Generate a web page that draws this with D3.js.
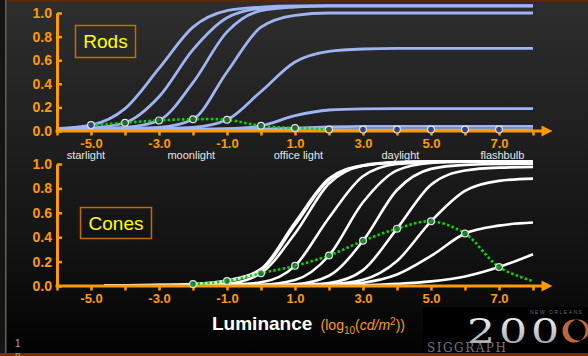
<!DOCTYPE html>
<html><head><meta charset="utf-8">
<script src="https://cdn.jsdelivr.net/npm/d3@7"></script>
<style>html,body{margin:0;padding:0;background:#000;overflow:hidden}</style>
</head><body>
<svg id="c" width="588" height="356"></svg>
<script>
// ---------- DATA ----------
const xTicks = [-6,-5,-4,-3,-2,-1,0,1,2,3,4,5,6,7,8];
const xTickLabels = {"-5":"-5.0","-3":"-3.0","-1":"-1.0","1":"1.0","3":"3.0","5":"5.0","7":"7.0"};
const yTicks = [0,0.2,0.4,0.6,0.8,1.0];
const sceneNames = ["starlight","moonlight","office light","daylight","flashbulb"];
const sceneAt = [-5.15,-2.05,1.1,4.1,7.1];

// Rods: response curves sampled at log luminance rodX
const rodX = [-6,-5,-4,-3,-2,-1,0,1,2,3,4,5,6,7,8];
const rods = [
  [0.02,0.05,0.19,0.53,0.88,1.02,1.05,1.06,1.06,1.06,1.06,1.06,1.06,1.06,1.06],
  [0.015,0.025,0.07,0.29,0.69,0.96,1.04,1.055,1.06,1.06,1.06,1.06,1.06,1.06,1.06],
  [0.015,0.02,0.03,0.09,0.41,0.84,1.02,1.05,1.06,1.06,1.06,1.06,1.06,1.06,1.06],
  [0.015,0.015,0.02,0.03,0.10,0.50,0.88,0.98,1.0,1.0,1.0,1.0,1.0,1.0,1.0],
  [0.015,0.015,0.015,0.02,0.03,0.095,0.335,0.585,0.675,0.695,0.70,0.70,0.70,0.70,0.70],
  [0.015,0.015,0.015,0.015,0.015,0.02,0.044,0.13,0.178,0.188,0.19,0.19,0.19,0.19,0.19],
  [0.015,0.015,0.015,0.015,0.015,0.015,0.017,0.025,0.034,0.039,0.04,0.04,0.04,0.04,0.04],
  [0.012,0.012,0.012,0.012,0.012,0.012,0.012,0.012,0.012,0.012,0.012,0.012,0.012,0.012,0.012]
];
const rodPtX = [-5,-4,-3,-2,-1,0,1,2,3,4,5,6,7];
const rodPtY = [0.05,0.07,0.09,0.10,0.095,0.044,0.025,0.012,0.012,0.012,0.012,0.012,0.012];
const rodGreenX = [-5,-4,-3,-2,-1,0,1,2];
const rodGreenY = [0.05,0.07,0.09,0.10,0.095,0.044,0.025,0.012];

// Cones
const coneX = [-4.6,-4,-3,-2,-1,0,1,2,3,4,5,6,7,8];
const cones = [
  [0.005,0.006,0.009,0.016,0.045,0.14,0.52,0.88,0.99,1.015,1.02,1.02,1.02,1.02],
  [0.005,0.005,0.007,0.012,0.04,0.13,0.50,0.87,0.985,1.012,1.02,1.02,1.02,1.02],
  [0.005,0.005,0.005,0.008,0.018,0.105,0.43,0.84,0.986,1.013,1.02,1.02,1.02,1.02],
  [0.005,0.005,0.005,0.005,0.01,0.03,0.165,0.56,0.90,1.0,1.015,1.02,1.02,1.02],
  [0.005,0.005,0.005,0.005,0.005,0.01,0.049,0.25,0.686,0.948,1.008,1.018,1.02,1.02],
  [0.005,0.005,0.005,0.005,0.005,0.006,0.014,0.084,0.37,0.787,0.96,0.993,1.0,1.0],
  [0.005,0.005,0.005,0.005,0.005,0.005,0.008,0.025,0.13,0.47,0.83,0.946,0.97,0.975],
  [0.005,0.005,0.005,0.005,0.005,0.005,0.005,0.014,0.051,0.205,0.53,0.78,0.862,0.88],
  [0.005,0.005,0.005,0.005,0.005,0.005,0.005,0.008,0.027,0.094,0.246,0.43,0.495,0.52],
  [0.005,0.005,0.005,0.005,0.005,0.005,0.005,0.005,0.007,0.018,0.038,0.078,0.155,0.26]
];
const conePtX = [-2,-1,0,1,2,3,4,5,6,7];
const conePtY = [0.016,0.04,0.105,0.165,0.25,0.37,0.47,0.53,0.43,0.155];
const coneGreenX = [-2,-1,0,1,2,3,4,5,6,7,8];
const coneGreenY = [0.016,0.04,0.105,0.165,0.25,0.37,0.47,0.53,0.43,0.155,0.04];

// ---------- DRAW ----------
const W = 588, H = 356;
const ORANGE = "#ff9a00";
const FONT = "'Liberation Sans', Arial, sans-serif";
const svg = d3.select("#c");
const defs = svg.append("defs");
const bg = defs.append("linearGradient").attr("id","bg").attr("x1",0).attr("y1",0).attr("x2",0).attr("y2",1);
bg.append("stop").attr("offset","0%").attr("stop-color","#2e2e2e");
bg.append("stop").attr("offset","40%").attr("stop-color","#1e1e1e");
bg.append("stop").attr("offset","70%").attr("stop-color","#121212");
bg.append("stop").attr("offset","100%").attr("stop-color","#020202");
svg.append("rect").attr("width",W).attr("height",H).attr("fill","url(#bg)");

// frame
svg.append("rect").attr("x",0).attr("y",0).attr("width",W).attr("height",2).attr("fill","#5a2800");
svg.append("rect").attr("x",0).attr("y",0).attr("width",5).attr("height",H).attr("fill","#141414");
svg.append("rect").attr("x",5).attr("y",0).attr("width",1.5).attr("height",H).attr("fill","#6d5d50");
svg.append("rect").attr("x",0).attr("y",353).attr("width",W).attr("height",3).attr("fill","#6a3300");

const x = d3.scaleLinear().domain([-6,8]).range([57,533]);
const yR = d3.scaleLinear().domain([0,1]).range([131,13]);
const yC = d3.scaleLinear().domain([0,1]).range([286,164]);

function curveLine(xs, y, curve){
  return d3.line().x((d,i)=>x(xs[i])).y(d=>y(d)).curve(curve);
}

function drawAxes(y, y0){
  const ya = svg.append("g").attr("transform",`translate(${x(-6)},0)`)
    .call(d3.axisLeft(y).tickValues(yTicks).tickSize(-5).tickSizeOuter(0).tickPadding(5).tickFormat(d3.format(".1f")));
  ya.select(".domain").attr("stroke",ORANGE).attr("stroke-width",3);
  ya.selectAll(".tick line").attr("stroke",ORANGE).attr("stroke-width",2.5);
  ya.selectAll(".tick text").attr("fill",ORANGE).style("font",`bold 14px ${FONT}`);
  svg.append("line").attr("x1",x(-6)-1.5).attr("x2",x(8.28)).attr("y1",y0).attr("y2",y0)
    .attr("stroke",ORANGE).attr("stroke-width",3);
  svg.append("path").attr("d",`M${x(8.25)},${y0-5.5}L${x(8.57)},${y0}L${x(8.25)},${y0+5.5}Z`).attr("fill",ORANGE);
  const xa = svg.append("g").attr("transform",`translate(0,${y0})`)
    .call(d3.axisBottom(x).tickValues(xTicks).tickSize(4.5).tickPadding(3).tickFormat(d=>xTickLabels[d]||""));
  xa.select(".domain").remove();
  xa.selectAll(".tick line").attr("stroke",ORANGE).attr("stroke-width",2.5);
  xa.selectAll(".tick text").attr("fill",ORANGE).style("font",`bold 13px ${FONT}`);
}

function drawGreen(xs, ys, y){
  svg.append("path").attr("d", curveLine(xs, y, d3.curveCatmullRom)(ys))
    .attr("fill","none").attr("stroke","#00dd00").attr("stroke-width",2.6).attr("stroke-dasharray","2.4,2.4");
}
function drawPts(xs, ys, y, fills){
  svg.append("g").selectAll("circle").data(ys).join("circle")
    .attr("cx",(d,i)=>x(xs[i])).attr("cy",d=>y(d)).attr("r",3.4)
    .attr("fill",(d,i)=>fills(i)).attr("fill-opacity",0.85)
    .attr("stroke","#e4e4e4").attr("stroke-width",1.2);
}

// ---- Rods panel ----
const rodG = svg.append("g");
rods.forEach(r=>{
  rodG.append("path").attr("d", curveLine(rodX, yR, d3.curveMonotoneX)(r))
    .attr("fill","none").attr("stroke","#9fb4f2").attr("stroke-width",2.8);
});
drawAxes(yR, 131);
drawGreen(rodGreenX, rodGreenY, yR);
drawPts(rodPtX, rodPtY, yR, i => (i>=1 && i<=7) ? "#1d5a2a" : "#27357a");

// ---- Cones panel ----
const coneG = svg.append("g");
cones.forEach(c=>{
  coneG.append("path").attr("d", curveLine(coneX, yC, d3.curveMonotoneX)(c))
    .attr("fill","none").attr("stroke","#ffffff").attr("stroke-width",2.6);
});
drawAxes(yC, 286);
drawGreen(coneGreenX, coneGreenY, yC);
drawPts(conePtX, conePtY, yC, () => "#0e7a1e");

// scene labels
svg.append("g").selectAll("text").data(sceneNames).join("text")
  .attr("x",(d,i)=>x(sceneAt[i])).attr("y",158.5).attr("text-anchor","middle")
  .attr("fill","#e6e6e6").style("font",`11px ${FONT}`).text(d=>d);

// panel name boxes
function nameBox(bx, by, bw, bh, label, ty){
  svg.append("rect").attr("x",bx).attr("y",by).attr("width",bw).attr("height",bh)
    .attr("fill","none").attr("stroke","#c06e00").attr("stroke-width",1.5);
  svg.append("text").attr("x",bx+bw/2).attr("y",ty).attr("text-anchor","middle")
    .attr("fill","#ffff00").style("font",`19px ${FONT}`).text(label);
}
nameBox(75.5,25.5,60,32,"Rods",48);
nameBox(80.5,207.5,71,31,"Cones",230);

// axis title
const t = svg.append("text").attr("x",212).attr("y",330).style("font",`bold 19px ${FONT}`).attr("fill","#ffffff");
t.append("tspan").text("Luminance ");
t.append("tspan").attr("fill",ORANGE).style("font",`14px ${FONT}`).attr("dx",3).text("(log");
t.append("tspan").attr("fill",ORANGE).style("font",`10px ${FONT}`).attr("dy",4).text("10");
t.append("tspan").attr("fill",ORANGE).style("font",`14px ${FONT}`).attr("dy",-4).text("(");
t.append("tspan").attr("fill",ORANGE).style("font",`italic 14px ${FONT}`).text("cd/m");
t.append("tspan").attr("fill",ORANGE).style("font",`10px ${FONT}`).attr("dy",-5).text("2");
t.append("tspan").attr("fill",ORANGE).style("font",`14px ${FONT}`).attr("dy",5).text("))");

// slide number
svg.append("text").attr("x",15).attr("y",347).attr("fill","#aaaaaa").style("font",`10px ${FONT}`).text("1");
svg.append("text").attr("x",15).attr("y",361).attr("fill","#aaaaaa").style("font",`10px ${FONT}`).text("8");

// SIGGRAPH 2000 logo
svg.append("rect").attr("x",423).attr("y",307).attr("width",165).attr("height",46).attr("fill","#000");
const lg = defs.append("linearGradient").attr("id","lg").attr("x1",0).attr("y1",0).attr("x2",0).attr("y2",1);
lg.append("stop").attr("offset","0%").attr("stop-color","#ffffff");
lg.append("stop").attr("offset","100%").attr("stop-color","#9a9a9a");
svg.append("text").attr("x",427).attr("y",352).attr("fill","#747474")
  .style("font",`12px 'DejaVu Serif', serif`).attr("letter-spacing",1.5).text("SIGGRAPH");
svg.append("text").attr("transform","translate(467,343) scale(1.3,1)").attr("x",0).attr("y",0).attr("fill","url(#lg)")
  .style("font",`34px 'DejaVu Serif', serif`).attr("letter-spacing",3).text("200");
svg.append("path")
  .attr("d", (()=>{const p=d3.path(); p.arc(574,331,11.5,0,2*Math.PI); p.moveTo(589,330); p.arc(578.5,330,10.5,0,2*Math.PI,true); return p.toString();})())
  .attr("fill","#b8673e").attr("fill-rule","evenodd");
svg.append("text").attr("x",530).attr("y",314).attr("fill","#6a6a6a")
  .style("font",`5px ${FONT}`).attr("letter-spacing",1.5).text("NEW ORLEANS");
</script>
</body></html>
